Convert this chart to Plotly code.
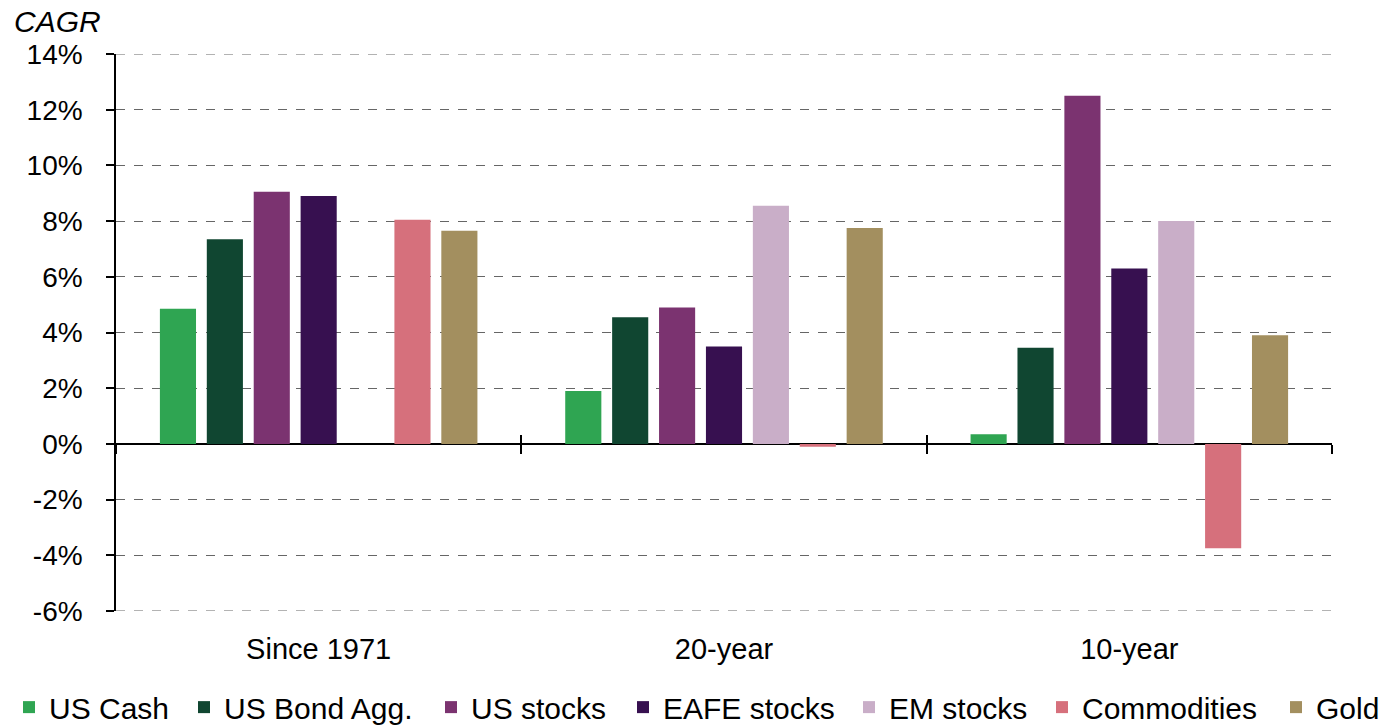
import plotly.graph_objects as go

categories = ["Since 1971", "20-year", "10-year"]
series_names = ["US Cash", "US Bond Agg.", "US stocks", "EAFE stocks", "EM stocks", "Commodities", "Gold"]
us_cash = [4.85, 1.9, 0.35]
us_bond = [7.35, 4.55, 3.45]
us_stocks = [9.05, 4.9, 12.5]
eafe_stocks = [8.9, 3.5, 6.3]
em_stocks = [None, 8.55, 8.0]
commodities = [8.05, -0.1, -3.75]
gold = [7.65, 7.75, 3.9]
colors = ["#2fa552", "#104631", "#7b3370", "#371050", "#c9aec8", "#d6707c", "#a38f5f"]
y_ticks = [-6, -4, -2, 0, 2, 4, 6, 8, 10, 12, 14]
# left edge (px) of each legend entry along the bottom row
legend_x_px = [9, 184, 431, 623, 849, 1042, 1276]

values = [us_cash, us_bond, us_stocks, eafe_stocks, em_stocks, commodities, gold]
FONT = "Liberation Sans, Arial, Helvetica, sans-serif"
W, H = 1387, 726
ML, MR, MT, MB = 116, 55, 54, 115
PW, PH = W - ML - MR, H - MT - MB

fig = go.Figure()
legend_layouts = {}
for i, (name, vals, col) in enumerate(zip(series_names, values, colors)):
    lname = "legend" if i == 0 else f"legend{i + 1}"
    fig.add_trace(go.Bar(x=categories, y=vals, name=name, marker_color=col,
                         marker_line_width=0, legend=lname))
    legend_layouts[lname] = dict(orientation="h", xref="container", x=legend_x_px[i] / W,
                                 xanchor="left", yref="container", y=0.026,
                                 yanchor="middle", font=dict(size=30),
                                 itemwidth=30, bgcolor="rgba(0,0,0,0)")

common_axis = dict(type="category", categoryarray=categories, categoryorder="array",
                   range=[-0.5, 2.5], showgrid=False, zeroline=False,
                   showticklabels=False, tickson="boundaries", ticklen=9,
                   tickwidth=1.5, tickcolor="#000", showline=False)

fig.update_layout(
    width=W, height=H,
    paper_bgcolor="white", plot_bgcolor="white",
    margin=dict(l=ML, r=MR, t=MT, b=MB, autoexpand=False),
    font=dict(family=FONT, size=28, color="#000"),
    barmode="group", bargap=0.19, bargroupgap=0.23,
    showlegend=True,
    xaxis=dict(type="category", categoryarray=categories, categoryorder="array",
               range=[-0.5, 2.5], showgrid=False, zeroline=False, showline=False,
               ticks="", tickfont=dict(size=29), ticklabelstandoff=18),
    xaxis2=dict(overlaying="x", anchor="free", position=0.3, ticks="outside", **common_axis),
    xaxis3=dict(overlaying="x", anchor="free", position=0.3, ticks="inside", **common_axis),
    yaxis=dict(range=[y_ticks[0], y_ticks[-1]], tickvals=y_ticks,
               ticktext=[f"{v}%" for v in y_ticks],
               showgrid=True, gridcolor="#666", griddash="dash", gridwidth=1,
               zeroline=True, zerolinecolor="#000", zerolinewidth=2,
               showline=True, linecolor="#000", linewidth=1.5,
               ticks="outside", ticklen=8, tickcolor="#000", tickwidth=1.5,
               tickfont=dict(size=28), ticklabelstandoff=18),
    **legend_layouts,
)

# dashed gridlines at the two range ends (Plotly skips gridlines on the plot edges)
for yv in (y_ticks[0], y_ticks[-1]):
    fig.add_shape(type="line", xref="paper", yref="y", x0=0, x1=1, y0=yv, y1=yv,
                  line=dict(color="#666", width=1, dash="dash"), layer="below")

# invisible traces to activate the overlay axes
fig.add_trace(go.Scatter(x=categories, y=[0, 0, 0], xaxis="x2", mode="none",
                         showlegend=False, hoverinfo="skip"))
fig.add_trace(go.Scatter(x=categories, y=[0, 0, 0], xaxis="x3", mode="none",
                         showlegend=False, hoverinfo="skip"))

fig.add_annotation(text="<i>CAGR</i>", xref="paper", yref="paper",
                   x=(12 - ML) / PW, y=(H - MB - 21) / PH, xanchor="left", yanchor="middle",
                   showarrow=False, font=dict(size=30, family=FONT))

fig.write_html("out.html", config={"displayModeBar": False},
               post_script="document.body.style.margin='0px';document.body.style.overflow='hidden';")
